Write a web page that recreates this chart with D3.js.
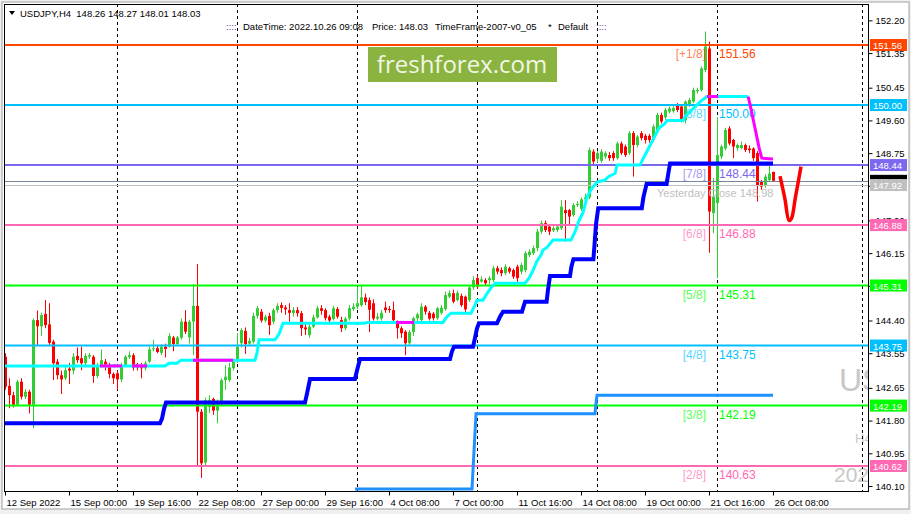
<!DOCTYPE html>
<html>
<head>
<meta charset="utf-8">
<script src="https://d3js.org/d3.v7.min.js"></script>
<style>
body { margin: 0; background: #fff; }
svg text { font-family: "Liberation Sans", Arial, sans-serif; }
</style>
</head>
<body>
<div id="frame"></div>
<script>
// chart size
const frameWidth = 911;
const frameHeight = 514;
const plotLeft = 4, plotTop = 4, plotRight = 868, plotBottom = 491;

// ---------- data ----------
// bottom axis: bar index of each label and its text
const labelBars = [0, 16, 32, 48, 64, 80, 96, 112, 128, 144, 160, 176, 192];
const timeLabels = ["12 Sep 2022", "15 Sep 00:00", "19 Sep 16:00", "22 Sep 08:00", "27 Sep 00:00",
    "29 Sep 16:00", "4 Oct 08:00", "7 Oct 00:00", "11 Oct 16:00", "14 Oct 08:00",
    "19 Oct 00:00", "21 Oct 16:00", "26 Oct 08:00"];
// week separators (monday 00:00 bars) and one extra vertical line
const weekStarts = [28, 58, 88, 118, 148, 178];
const markerBar = 214.25;

// right axis
const priceTicks = [152.20, 151.35, 150.45, 149.60, 148.75, 147.90, 147.00, 146.15,
    145.30, 144.40, 143.55, 142.65, 141.80, 140.95, 140.10];

// H4 candles [open, high, low, close]
const bars = [
[143.46,143.55,142.6,142.68],[142.70,142.9,142.12,142.46],[142.46,142.55,142.14,142.21],[142.21,142.86,142.18,142.81],
[142.81,142.9,142.35,142.42],[142.42,142.62,142.36,142.55],[142.55,142.6,141.99,142.21],[142.21,144.45,141.6,144.41],
[144.41,144.66,143.76,144.25],[144.25,144.6,144.0,144.54],[144.57,144.93,144.2,144.28],[144.3,144.85,143.75,143.82],
[143.85,143.9,142.85,143.29],[143.33,143.4,142.87,142.98],[142.98,143.1,142.49,142.87],[142.9,143.2,142.85,143.11],
[143.15,143.3,142.75,143.1],[143.1,143.55,143.0,143.46],[143.48,143.7,143.3,143.37],[143.42,143.72,143.11,143.29],
[143.29,143.55,143.2,143.48],[143.46,143.56,143.4,143.5],[143.46,143.5,142.78,142.96],[142.96,143.3,142.9,143.24],
[143.24,143.65,143.2,143.37],[143.33,143.4,143.1,143.2],[143.2,143.3,142.9,143.01],[143.01,143.05,142.75,142.9],
[143.03,143.1,142.6,142.87],[142.87,143.3,142.8,143.2],[143.24,143.5,143.2,143.46],[143.45,143.6,143.4,143.5],
[143.5,143.55,143.1,143.18],[143.27,143.3,143.1,143.18],[143.24,143.3,142.9,143.16],[143.16,143.35,143.1,143.29],
[143.33,143.72,143.3,143.65],[143.66,143.9,143.6,143.68],[143.68,143.75,143.55,143.58],[143.56,143.78,143.5,143.72],
[143.72,143.8,143.44,143.66],[143.72,144.07,143.7,144.0],[143.96,144.0,143.6,143.79],[143.79,144.0,143.75,143.96],
[143.95,144.45,143.9,144.37],[144.37,144.67,144.05,144.11],[143.96,144.42,143.8,144.37],[144.37,145.35,143.5,144.78],
[144.78,145.87,140.6,142.03],[142.03,142.1,140.31,140.69],[140.71,142.4,140.6,142.33],[142.15,142.46,142.0,142.33],
[142.36,142.4,141.95,142.06],[142.06,142.35,141.73,142.29],[142.29,142.9,142.2,142.85],[142.85,143.24,142.6,142.94],
[142.85,143.3,142.8,143.18],[143.16,143.4,143.1,143.33],[143.35,144.07,143.3,143.72],[143.81,144.2,143.7,144.15],
[144.13,144.22,143.53,143.79],[143.8,143.95,143.75,143.87],[143.85,144.6,143.8,144.52],[144.52,144.78,144.45,144.72],
[144.63,144.7,144.35,144.4],[144.4,144.55,144.35,144.5],[144.52,144.6,144.03,144.28],[144.37,144.72,144.3,144.67],
[144.67,144.85,144.6,144.78],[144.8,144.87,144.6,144.73],[144.74,144.8,144.55,144.69],[144.67,144.85,144.37,144.6],
[144.6,144.75,144.5,144.67],[144.67,144.75,144.5,144.59],[144.59,144.65,144.0,144.2],[144.22,144.3,144.02,144.17],
[144.02,144.3,143.95,144.24],[144.24,144.55,144.2,144.48],[144.48,144.78,144.45,144.72],[144.72,144.8,144.55,144.65],
[144.67,144.72,144.4,144.46],[144.5,144.55,144.3,144.4],[144.44,144.78,144.4,144.72],[144.7,144.75,144.45,144.5],
[144.41,144.5,144.1,144.2],[144.2,144.5,144.15,144.45],[144.45,144.8,144.4,144.72],[144.7,144.85,144.65,144.76],
[144.76,145.28,144.7,144.85],[144.8,145.3,144.75,145.0],[145.0,145.1,144.8,144.88],[144.93,145.0,144.1,144.68],
[144.85,144.95,144.4,144.45],[144.45,144.6,144.4,144.5],[144.45,144.68,144.4,144.6],[144.74,144.89,144.6,144.67],
[144.7,144.78,144.6,144.67],[144.67,144.89,144.35,144.41],[144.33,144.4,143.93,144.2],[144.2,144.25,143.95,144.07],
[144.11,144.15,143.5,143.81],[143.81,144.15,143.75,144.1],[144.1,144.5,144.0,144.46],[144.46,144.6,144.35,144.56],
[144.41,144.85,144.38,144.76],[144.76,144.8,144.55,144.63],[144.6,144.65,144.4,144.45],[144.58,144.62,144.4,144.46],
[144.46,144.75,144.42,144.72],[144.6,144.8,144.55,144.73],[144.7,145.15,144.65,145.06],[145.02,145.18,144.98,145.11],
[145.11,145.2,144.85,144.89],[144.93,145.18,144.9,145.12],[145.04,145.1,144.75,144.8],[145.02,145.05,144.62,144.69],
[144.93,145.32,144.88,145.26],[145.26,145.55,145.2,145.45],[145.5,145.58,145.22,145.28],[145.41,145.55,145.38,145.47],
[145.45,145.5,145.3,145.37],[145.45,145.55,145.35,145.5],[145.45,145.82,145.4,145.76],[145.76,145.82,145.6,145.67],
[145.71,145.78,145.55,145.63],[145.63,145.86,145.58,145.8],[145.76,145.8,145.62,145.67],[145.71,145.75,145.48,145.54],
[145.8,145.85,145.38,145.5],[145.67,145.9,145.6,145.84],[145.71,146.2,145.65,146.15],[146.1,146.25,146.05,146.19],
[146.15,146.35,146.1,146.28],[146.28,146.78,146.2,146.71],[146.71,147.0,146.65,146.93],[146.93,147.0,146.7,146.75],
[146.84,146.88,146.62,146.71],[146.74,146.85,146.7,146.8],[146.75,146.9,146.7,146.84],[146.8,147.53,146.75,147.36],
[147.27,147.53,146.45,147.19],[147.27,147.3,146.88,147.1],[147.14,147.45,147.1,147.4],[147.4,147.5,147.35,147.43],
[147.3,147.6,147.25,147.55],[147.55,147.7,147.45,147.6],[147.6,148.9,147.55,148.83],[148.79,148.85,148.45,148.53],
[148.6,148.8,148.5,148.75],[148.55,148.85,148.5,148.79],[148.66,148.8,148.6,148.75],[148.7,148.78,148.55,148.62],
[148.75,148.8,148.55,148.62],[148.62,149.05,148.58,149.0],[149.0,149.05,148.7,148.75],[148.92,148.97,148.65,148.7],
[148.75,149.32,148.7,149.27],[149.27,149.32,148.14,148.96],[148.96,149.22,148.9,149.18],[149.27,149.32,149.08,149.14],
[149.2,149.25,149.0,149.09],[149.2,149.25,149.02,149.09],[149.09,149.5,149.05,149.44],[149.35,149.8,149.3,149.74],
[149.74,149.8,149.52,149.57],[149.68,149.92,149.62,149.87],[149.83,149.96,149.78,149.91],[149.84,149.97,149.8,149.92],
[150.0,150.05,149.82,149.87],[149.96,150.0,149.55,149.61],[149.61,150.12,149.52,150.09],[150.0,150.18,149.95,150.13],
[150.09,150.45,150.05,150.39],[150.36,150.45,150.3,150.39],[150.39,151.0,150.35,150.95],[150.91,151.91,150.85,151.52],
[151.47,151.65,146.16,147.23],[147.19,148.1,146.67,147.62],[147.45,149.68,145.5,148.7],[148.66,148.97,148.6,148.92],
[148.87,149.4,148.82,149.35],[149.39,149.45,148.95,149.0],[149.09,149.12,148.62,148.92],[148.88,149.0,148.82,148.96],
[148.88,149.05,148.85,148.96],[148.96,149.0,148.78,148.83],[148.87,148.95,148.75,148.83],[148.87,148.9,148.55,148.62],
[148.75,148.8,147.49,147.92],[148.01,148.05,147.8,147.88],[147.92,148.2,147.85,148.14],[148.05,148.44,148.0,148.22],
[148.26,148.27,148.01,148.03]
];

// murrey math levels
const levelPrices = [151.56, 150.00, 148.44, 146.88, 145.31, 143.75, 142.19, 140.62];
const levelTags = ["[+1/8]", "[8/8]", "[7/8]", "[6/8]", "[5/8]", "[4/8]", "[3/8]", "[2/8]"];
const levelTexts = ["151.56", "150.00", "148.44", "146.88", "145.31", "143.75", "142.19", "140.63"];
const levelColors = ["#FF4500", "#00BFFF", "#7B68EE", "#FF69B4", "#00FF00", "#00BFFF", "#00FF00", "#FF69B4"];
const bidPrice = 148.03;
const closeLine = 147.92;
const yesterdayClose = "Yesterday Close 148.98";

// trailing line [bar, price] and its magenta parts
const trail = [[0,143.22],[40,143.22],[41,143.29],[43,143.29],[44,143.37],[62.5,143.37],[63,143.55],[63.5,143.9],
    [67.5,143.9],[68.5,144.05],[69.5,144.33],[90,144.33],[90.5,144.35],[109.5,144.35],[110.5,144.5],[111.5,144.59],
    [116.5,144.59],[117.5,144.8],[118,144.93],[119.5,144.93],[120.5,145.1],[121.5,145.25],[122.5,145.37],[130,145.37],
    [131,145.5],[132,145.7],[133,145.95],[134,146.1],[134.5,146.23],[135.5,146.3],[137,146.49],[141.5,146.49],
    [142.5,146.7],[143.5,147.0],[144.5,147.2],[145.5,147.6],[146.5,147.8],[148,148.0],[150,148.05],[151,148.15],
    [152.5,148.22],[153,148.44],[158.75,148.44],[159.5,148.6],[160.5,148.8],[161.5,149.0],[162.5,149.2],[163.5,149.4],
    [165,149.52],[165.5,149.6],[169.5,149.6],[170,149.7],[171,149.8],[172.5,149.95],[174,150.1],[175.5,150.22],[185.8,150.22]];
const trailAlt = [
    [[23.75,143.22],[29.25,143.22]],
    [[31.75,143.22],[35.5,143.22]],
    [[47,143.37],[57,143.37]],
    [[97.75,144.35],[102.25,144.35]],
    [[175.5,150.22],[178.3,150.22]],
    [[185.8,150.22],[186.5,149.9],[187.5,149.4],[188.5,148.9],[189.2,148.62],[192,148.6]]];

// blue step line
const blueStep = [[0,141.73],[38.75,141.73],[39.25,141.85],[39.75,142.1],[40.25,142.27],[75,142.27],[75.5,142.5],
    [76.25,142.88],[87.5,142.88],[88,143.1],[88.75,143.4],[111.25,143.4],[111.75,143.6],[112.25,143.72],[117,143.72],
    [117.5,143.95],[118,144.2],[118.5,144.33],[123,144.33],[123.75,144.5],[124.5,144.63],[129.25,144.63],[130,144.89],
    [135.4,144.89],[135.75,145.2],[136.25,145.56],[141.25,145.56],[141.6,145.8],[142.1,145.99],[147.1,145.99],
    [147.4,146.4],[147.75,146.9],[148.3,147.32],[159.2,147.32],[159.6,147.6],[160.4,147.95],[165.4,147.95],
    [165.8,148.2],[166.25,148.48],[192,148.48]];

// lower (dodger blue) step line
const lowerStep = [[87.5,140.02],[116.75,140.02],[117.25,141.0],[117.75,141.98],[147.5,141.98],[147.75,142.25],
    [148,142.46],[192,142.46]];

// hand drawn forecast
const forecast = [[193.75,148.15],[195.0,147.55],[196.0,147.0],[196.6,147.05],[197.6,147.6],[199.0,148.4]];

// ---------- drawing ----------
let svg = d3.select("#frame")
        .append("svg")
        .attr("width", frameWidth)
        .attr("height", frameHeight);

// window background + border
svg.append("rect").attr("width", frameWidth).attr("height", frameHeight).attr("fill", "#F0F0F0");
svg.append("rect").attr("x", 2).attr("y", 2).attr("width", frameWidth - 4).attr("height", 507)
        .attr("fill", "#fff").attr("stroke", "#A0A0A0");

let xScale = d3.scaleLinear().domain([0, 215.75]).range([5, 868]);
let yScale = d3.scaleLinear().domain([139.97, 152.625]).range([plotBottom, plotTop]);

svg.append("clipPath").attr("id", "plotClip")
    .append("rect")
        .attr("x", plotLeft).attr("y", plotTop)
        .attr("width", plotRight - plotLeft).attr("height", plotBottom - plotTop);

let plot = svg.append("g").attr("clip-path", "url(#plotClip)");

// gray watermark texts at right edge (cut by the price scale, as in the terminal)
plot.append("text").attr("x", 839).attr("y", 391).attr("font-size", "32px")
    .attr("fill", "#C8C8C8").text("USDJPY");
plot.append("text").attr("x", 855).attr("y", 443).attr("font-size", "13px")
    .attr("fill", "#C8C8C8").text("H4");
plot.append("text").attr("x", 834).attr("y", 482).attr("font-size", "21px")
    .attr("fill", "#C8C8C8").text("2022.10.26");

// vertical dashed lines
plot.selectAll(".week")
    .data(weekStarts.concat([markerBar]))
    .enter()
    .append("line")
        .attr("x1", d => Math.round(xScale(d)) + 0.5)
        .attr("x2", d => Math.round(xScale(d)) + 0.5)
        .attr("y1", plotTop)
        .attr("y2", plotBottom)
        .attr("stroke", "#000")
        .attr("stroke-dasharray", "3,3");

// candles
let candle = plot.selectAll(".candle")
    .data(bars)
    .enter()
    .append("g");

candle.append("line")
    .attr("x1", (d, i) => xScale(i) + 0.5)
    .attr("x2", (d, i) => xScale(i) + 0.5)
    .attr("y1", d => yScale(d[1]))
    .attr("y2", d => yScale(d[2]))
    .attr("stroke", d => d[3] >= d[0] ? "#32CD32" : "#FF0000");

candle.append("rect")
    .attr("x", (d, i) => xScale(i) - 1)
    .attr("width", 3)
    .attr("y", d => yScale(Math.max(d[0], d[3])))
    .attr("height", d => Math.max(1, Math.abs(yScale(d[0]) - yScale(d[3]))))
    .attr("fill", d => d[3] >= d[0] ? "#32CD32" : "#FF0000");

// level lines
plot.selectAll(".level")
    .data(levelPrices)
    .enter()
    .append("line")
        .attr("x1", plotLeft).attr("x2", plotRight)
        .attr("y1", d => yScale(d)).attr("y2", d => yScale(d))
        .attr("stroke", (d, i) => levelColors[i])
        .attr("stroke-width", 2);

plot.append("line")
    .attr("x1", plotLeft).attr("x2", plotRight)
    .attr("y1", Math.round(yScale(bidPrice)) + 0.5).attr("y2", Math.round(yScale(bidPrice)) + 0.5)
    .attr("stroke", "#778899");
plot.append("line")
    .attr("x1", plotLeft).attr("x2", plotRight)
    .attr("y1", Math.round(yScale(closeLine)) + 0.5).attr("y2", Math.round(yScale(closeLine)) + 0.5)
    .attr("stroke", "#C0C0C0");

// level texts
plot.selectAll(".tag")
    .data(levelPrices)
    .enter()
    .append("text")
        .attr("x", xScale(175.25))
        .attr("y", d => yScale(d) + 13)
        .attr("text-anchor", "end")
        .attr("font-size", "12px")
        .attr("fill", (d, i) => levelColors[i])
        .attr("fill-opacity", 0.7)
        .text((d, i) => levelTags[i]);

plot.selectAll(".tagValue")
    .data(levelPrices)
    .enter()
    .append("text")
        .attr("x", xScale(178.5))
        .attr("y", d => yScale(d) + 13)
        .attr("font-size", "12px")
        .attr("fill", (d, i) => levelColors[i])
        .text((d, i) => levelTexts[i]);

plot.append("text")
    .attr("x", xScale(163))
    .attr("y", yScale(closeLine) + 12)
    .attr("font-size", "11px")
    .attr("fill", "#C0C0C0")
    .text(yesterdayClose);

// indicator lines
let line = d3.line()
    .x(d => xScale(d[0]))
    .y(d => yScale(d[1]));

plot.append("path").attr("d", line(lowerStep))
    .attr("fill", "none").attr("stroke", "#1E90FF").attr("stroke-width", 3);

plot.append("path").attr("d", line(blueStep))
    .attr("fill", "none").attr("stroke", "#0000FF").attr("stroke-width", 4);

plot.append("path").attr("d", line(trail))
    .attr("fill", "none").attr("stroke", "#00FFFF").attr("stroke-width", 3);

plot.selectAll(".alt")
    .data(trailAlt)
    .enter()
    .append("path")
        .attr("d", d => line(d))
        .attr("fill", "none")
        .attr("stroke", "#FF00FF")
        .attr("stroke-width", 3);

// forecast V
plot.append("path")
    .attr("d", line.curve(d3.curveCatmullRom)(forecast))
    .attr("fill", "none").attr("stroke", "#FF0000").attr("stroke-width", 3.5);

// freshforex badge
svg.append("rect").attr("x", 368).attr("y", 47).attr("width", 189).attr("height", 35).attr("fill", "#8AB33F");
svg.append("text").attr("x", 462).attr("y", 73).attr("text-anchor", "middle")
    .style("font-family", "'Open Sans', sans-serif").attr("font-size", "24px")
    .attr("fill", "#F2F6E6").text("freshforex.com");

// plot border
svg.append("rect")
    .attr("x", plotLeft + 0.5).attr("y", plotTop + 0.5)
    .attr("width", plotRight - plotLeft).attr("height", plotBottom - plotTop)
    .attr("fill", "none").attr("stroke", "#000");

// right axis
let yAxis = d3.axisRight(yScale)
    .tickValues(priceTicks)
    .tickSize(4)
    .tickSizeOuter(0)
    .tickFormat(d3.format(".2f"));

let yAxisG = svg.append("g")
    .attr("transform", "translate(" + (plotRight + 0.5) + ",0)")
    .call(yAxis);
yAxisG.select(".domain").remove();
yAxisG.selectAll("text").attr("font-size", "9.5px").attr("x", 7).style("font-family", "'Liberation Sans', Arial");

// right side price boxes
let boxes = levelPrices.map((p, i) => ({p: p, c: levelColors[i], t: p.toFixed(2), fg: "#fff"}));
boxes.push({p: bidPrice, c: "#000", t: bidPrice.toFixed(2), fg: "#fff"});
boxes.push({p: closeLine, c: "#C0C0C0", t: closeLine.toFixed(2), fg: "#fff"});

let boxG = svg.selectAll(".box")
    .data(boxes)
    .enter()
    .append("g");
boxG.append("rect")
    .attr("x", 870).attr("width", 37)
    .attr("y", d => yScale(d.p) - 6).attr("height", 12)
    .attr("fill", d => d.c);
boxG.append("text")
    .attr("x", 873)
    .attr("y", d => yScale(d.p) + 4)
    .attr("font-size", "9.5px")
    .attr("fill", d => d.fg)
    .text(d => d.t);

// bottom axis
let xAxis = d3.axisBottom(xScale)
    .tickValues(labelBars)
    .tickSize(4)
    .tickSizeOuter(0)
    .tickFormat((d, i) => timeLabels[i]);

let xAxisG = svg.append("g")
    .attr("transform", "translate(0," + (plotBottom + 0.5) + ")")
    .call(xAxis);
xAxisG.select(".domain").remove();
xAxisG.selectAll("text")
    .attr("text-anchor", "start")
    .attr("x", 1)
    .attr("y", 8)
    .attr("font-size", "9.5px")
    .style("font-family", "'Liberation Sans', Arial");

// header
svg.append("path").attr("d", "M9,11 L15,11 L12,15 Z").attr("fill", "#000");
svg.append("text").attr("x", 20).attr("y", 17).attr("font-size", "9.5px")
    .attr("xml:space", "preserve")
    .text("USDJPY,H4  148.26 148.27 148.01 148.03");

let header2 = [
    {x: 226, t: "::::", c: "#7030A0"},
    {x: 243, t: "DateTime: 2022.10.26 09:08", c: "#000"},
    {x: 372, t: "Price: 148.03", c: "#000"},
    {x: 435, t: "TimeFrame-2007-v0_05", c: "#000"},
    {x: 548, t: "*", c: "#000"},
    {x: 558, t: "Default", c: "#000"},
    {x: 596, t: "::::", c: "#7030A0"}
];
svg.selectAll(".hdr")
    .data(header2)
    .enter()
    .append("text")
        .attr("x", d => d.x)
        .attr("y", 30)
        .attr("font-size", "9.5px")
        .attr("fill", d => d.c)
        .text(d => d.t);
</script>
</body>
</html>
